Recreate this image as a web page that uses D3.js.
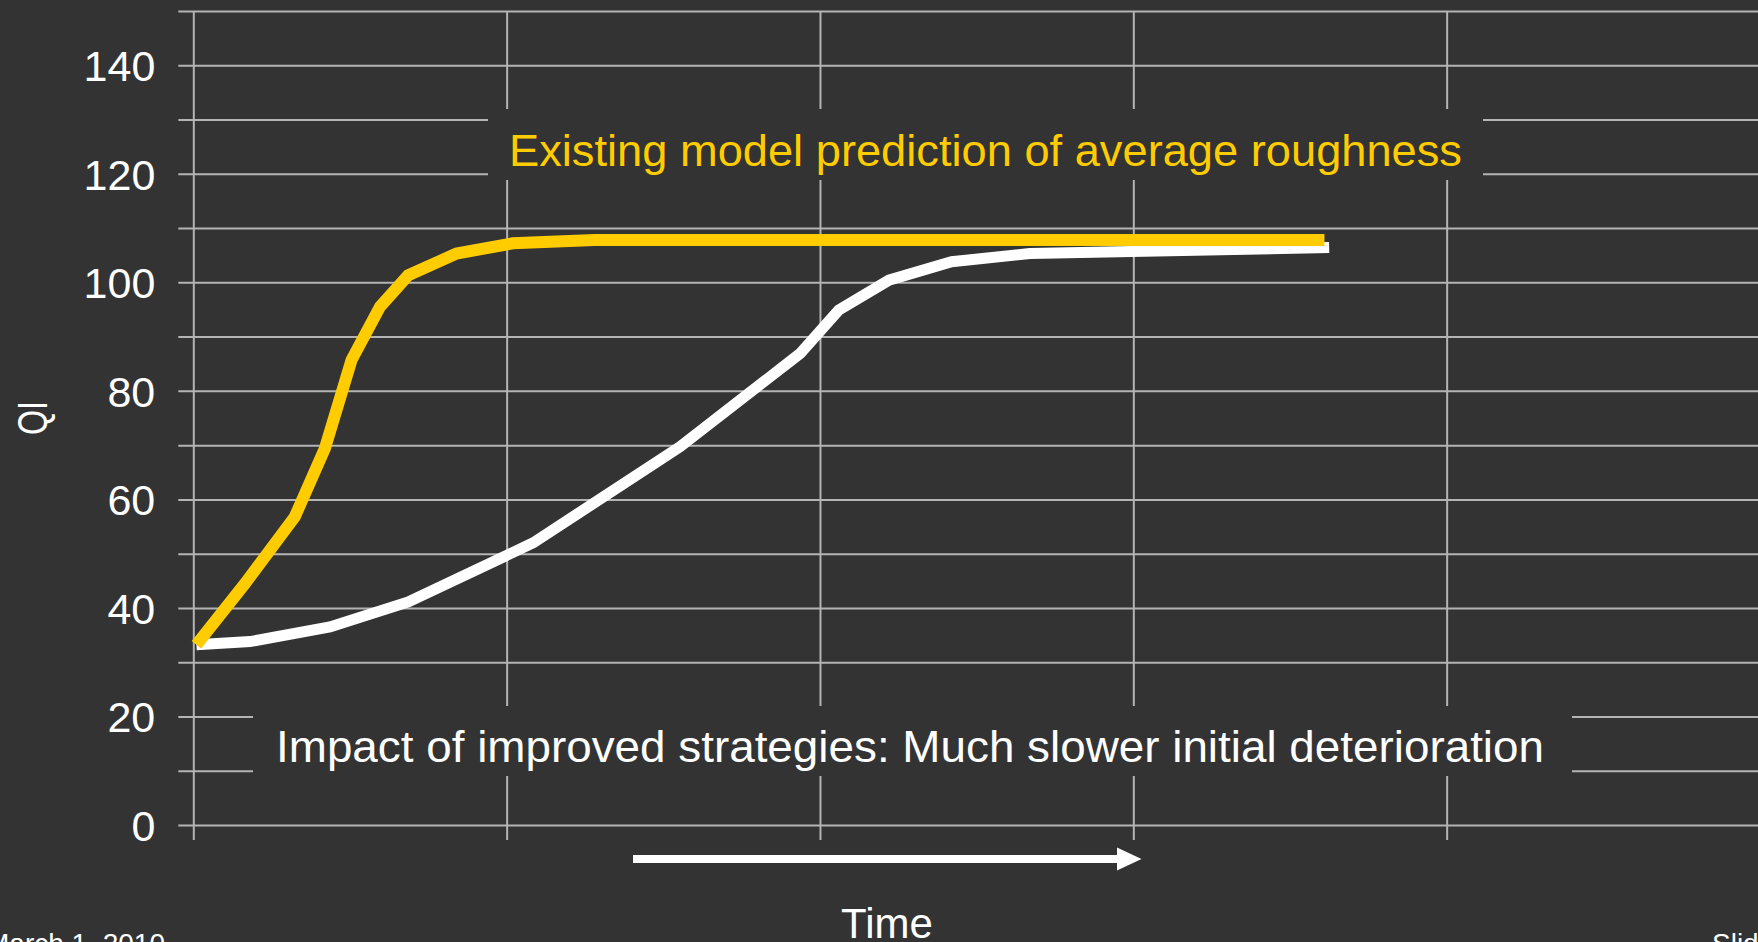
<!DOCTYPE html>
<html>
<head>
<meta charset="utf-8">
<script src="https://cdn.jsdelivr.net/npm/d3@7"></script>
<style>
    html, body { margin: 0; padding: 0; background: #333333; overflow: hidden; }
    svg { display: block; }
    text { font-family: "Liberation Sans", Arial, sans-serif; fill: #ffffff; }
</style>
</head>
<body>
<svg id="chart" width="1758" height="942"></svg>
<script>
// Values (time in grid units, QI on the left axis)
const timeExisting = [0.1, 1.65, 3.24, 4.2, 5.05, 5.96, 6.86, 8.4, 10.2, 12.8, 36.1];
const qiExisting   = [33.2, 44.5, 56.8, 69.4, 85.7, 95.5, 101.3, 105.3, 107.2, 107.8, 107.8];

const timeImproved = [0.1, 1.81, 4.36, 6.86, 10.85, 15.53, 19.37, 20.6, 22.2, 24.2, 26.7, 36.25];
const qiImproved   = [33.2, 33.8, 36.5, 41.1, 52.0, 69.7, 86.9, 94.9, 100.4, 103.8, 105.3, 106.4];

const yTicks = d3.range(0, 151, 10);
const yLabels = [0, 20, 40, 60, 80, 100, 120, 140];
const xTicks = [0, 10, 20, 30, 40, 50];

const svg = d3.select('#chart');
const gridColor = '#b4b4b4';

// Scales
const x = d3.scaleLinear().domain([0, 50]).range([193.3, 1760]);
const y = d3.scaleLinear().domain([0, 150]).range([825, 11]);
const plotW = x.range()[1] - x.range()[0];
const plotH = y.range()[0] - y.range()[1];

// Horizontal gridlines + y labels
const yAxis = d3.axisLeft(y)
    .tickValues(yTicks)
    .tickSize(-plotW)
    .tickPadding(38)
    .tickFormat(d => yLabels.includes(d) ? d : '');

const gy = svg.append('g')
    .attr('transform', `translate(${x.range()[0]},0)`)
    .call(yAxis);
gy.select('.domain').remove();
gy.selectAll('line')
    .attr('x1', -15)
    .attr('stroke', gridColor)
    .attr('stroke-width', 2);
gy.selectAll('text')
    .attr('font-size', 43)
    .attr('font-family', '"Liberation Sans", Arial, sans-serif')
    .attr('fill', '#ffffff')
    .attr('dy', '0.36em');

// Vertical gridlines
const xAxis = d3.axisBottom(x)
    .tickValues(xTicks)
    .tickSize(-plotH)
    .tickFormat('');

const gx = svg.append('g')
    .attr('transform', `translate(0,${y.range()[0]})`)
    .call(xAxis);
gx.select('.domain').remove();
gx.selectAll('line')
    .attr('y1', 15)
    .attr('stroke', gridColor)
    .attr('stroke-width', 2);

// Text boxes covering the grid
const notes = [
    { text: 'Existing model prediction of average roughness', color: '#ffcc00',
      box: [488, 109, 995, 71], tx: 985.5, ty: 166, len: 953 },
    { text: 'Impact of improved strategies: Much slower initial deterioration', color: '#ffffff',
      box: [253, 706, 1319, 70], tx: 910, ty: 761.7, len: 1268 }
];

notes.forEach(n => {
    svg.append('rect')
        .attr('x', n.box[0]).attr('y', n.box[1])
        .attr('width', n.box[2]).attr('height', n.box[3])
        .attr('fill', '#333333');
    svg.append('text')
        .attr('x', n.tx).attr('y', n.ty)
        .attr('text-anchor', 'middle')
        .attr('font-size', 45)
        .attr('textLength', n.len)
        .attr('lengthAdjust', 'spacingAndGlyphs')
        .style('fill', n.color)
        .text(n.text);
});

// Curves
const line = d3.line()
    .x(d => x(d[0]))
    .y(d => y(d[1]));

svg.append('path')
    .datum(d3.zip(timeImproved, qiImproved))
    .attr('d', line)
    .attr('fill', 'none')
    .attr('stroke', '#ffffff')
    .attr('stroke-width', 11);

svg.append('path')
    .datum(d3.zip(timeExisting, qiExisting))
    .attr('d', line)
    .attr('fill', 'none')
    .attr('stroke', '#ffcc00')
    .attr('stroke-width', 12);

// Time arrow
svg.append('rect')
    .attr('x', 633).attr('y', 855)
    .attr('width', 486).attr('height', 8)
    .attr('fill', '#ffffff');
svg.append('path')
    .attr('d', 'M1117,847.5 L1141.5,859 L1117,870.5 Z')
    .attr('fill', '#ffffff');

// Axis titles
svg.append('text')
    .attr('x', 887).attr('y', 938)
    .attr('text-anchor', 'middle')
    .attr('font-size', 42)
    .text('Time');

svg.append('text')
    .attr('transform', 'translate(47,418) rotate(-90)')
    .attr('text-anchor', 'middle')
    .attr('font-size', 42)
    .attr('textLength', 34)
    .attr('lengthAdjust', 'spacingAndGlyphs')
    .text('QI');

// Slide footer (cut off by the frame)
svg.append('text')
    .attr('x', 165).attr('y', 953)
    .attr('text-anchor', 'end')
    .attr('font-size', 28)
    .text('March 1, 2010');

svg.append('text')
    .attr('x', 1712).attr('y', 953)
    .attr('font-size', 28)
    .text('Slide 8');
</script>
</body>
</html>
